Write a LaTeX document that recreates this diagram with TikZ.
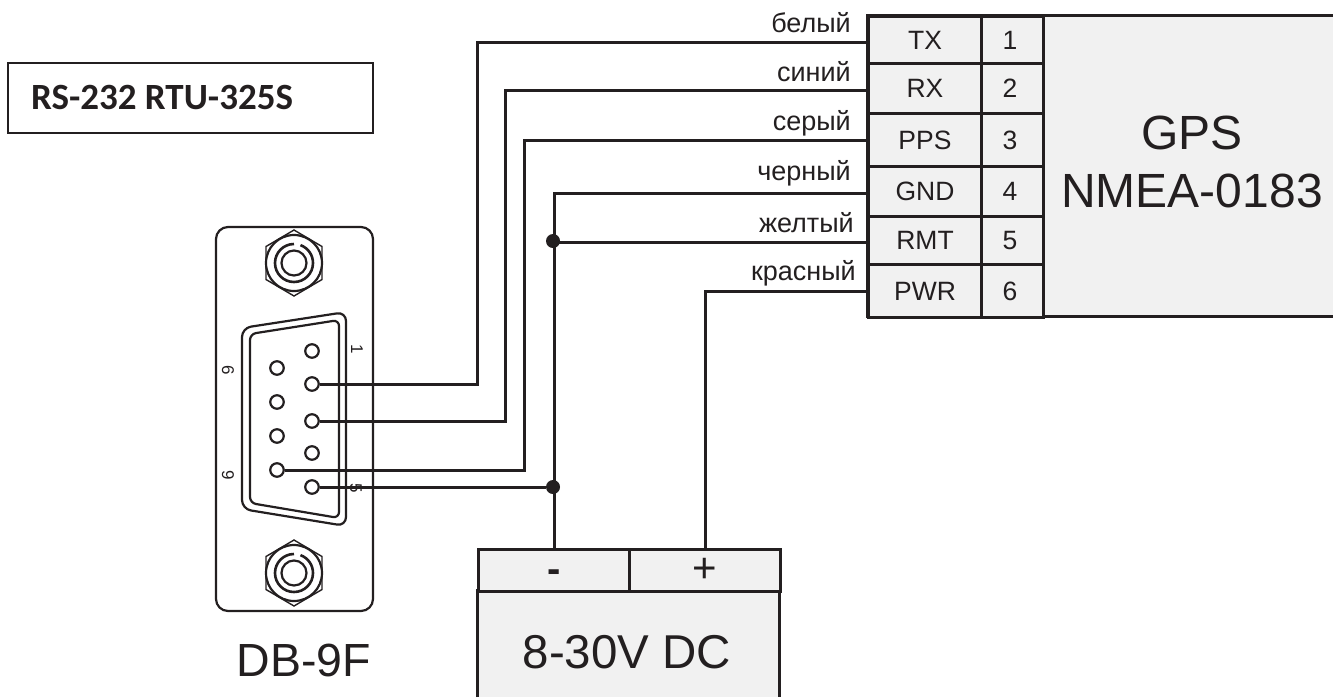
\documentclass[tikz,border=0pt]{standalone}
\usepackage{fontspec}
\setmainfont{Liberation Sans}
\newfontfamily\titlefont{Carlito}
\definecolor{ink}{HTML}{231F20}
\definecolor{cellgray}{HTML}{F1F1F1}
\tikzset{
  cell/.style={draw=ink,fill=cellgray,line width=3pt,inner sep=0pt,font=\fontsize{26.5}{26.5}\selectfont,text=ink},
  pin/.style={circle,draw=ink,fill=white,line width=2.2pt,minimum size=13.5pt,inner sep=0pt},
  dot/.style={circle,fill=ink,minimum size=14pt,inner sep=0pt},
  wire/.style={draw=ink,line width=3pt},
  thin line/.style={draw=ink,line width=2.2pt},
  colorlabel/.style={anchor=base east,inner sep=0pt,text=ink,font=\fontsize{27}{27}\selectfont},
  pinlabel/.style={inner sep=0pt,text=ink,rotate=-90,font=\fontsize{17}{17}\selectfont},
  biglabel/.style={inner sep=0pt,text=ink,font=\fontsize{46.5}{46.5}\selectfont}
}
\begin{document}
\begin{tikzpicture}[x=1pt,y=-1pt]
  \useasboundingbox (0,0) rectangle (1333,697);

  % title
  \node (title) [draw=ink,line width=1.8pt,minimum width=365pt,minimum height=70pt,inner sep=0pt] at (190.5,98) {};
  \node [anchor=west,inner sep=0pt,font=\fontsize{37}{37}\selectfont\bfseries\titlefont,text=ink] at (31,97) {RS-232 RTU-325S};

  % connector
  \draw[thin line,rounded corners=12pt] (216,227) rectangle (373,611);
  \draw[thin line,rounded corners=9pt] (242,328) -- (346,312) -- (346,526) -- (242,509) -- cycle;
  \draw[thin line,rounded corners=6pt] (250,334) -- (339,320) -- (339,518) -- (250,503) -- cycle;
  \foreach \sy in {263,573} {
    \draw[thin line,line width=1.4pt] (294,\sy-33) -- (322,\sy-16.5) -- (322,\sy+16.5) -- (294,\sy+33) -- (266,\sy+16.5) -- (266,\sy-16.5) -- cycle;
    \draw[thin line] (294,\sy) circle (28pt);
    \draw[thin line] (294,\sy) circle (12.5pt);
    \draw[thin line,line width=2.6pt] (294,\sy-19) arc[start angle=90,end angle=430,radius=19pt];
  }
  \foreach \name/\px/\py in {p1/312/351,p2/312/384,p3/312/421,p4/312/453,p5/312/487,p6/277/368,p7/277/402,p8/277/436,p9/277/470}
    \node (\name) [pin] at (\px,\py) {};
  \node (n1) [pinlabel] at (357,349) {1};
  \node (n5) [pinlabel] at (356,488) {5};
  \node (n6) [pinlabel] at (228,370) {6};
  \node (n9) [pinlabel] at (228,475) {9};
  \node (db) [biglabel] at (304,660) {DB-9F};

  % gps
  \draw[wire,fill=cellgray] (1333,15) -- (867,15) -- (867,316) -- (1333,316);
  \foreach \name/\txt/\num/\ya/\yb in {tx/TX/1/15/62,rx/RX/2/62/112,pps/PPS/3/112/165,gnd/GND/4/165/215,rmt/RMT/5/215/263,pwr/PWR/6/263/316} {
    \node (\name) [cell,minimum width=113pt,minimum height={\yb-\ya},anchor=north west] at (867,\ya) {\txt};
    \node (\name n) [cell,minimum width=62pt,minimum height={\yb-\ya},anchor=north west] at (980,\ya) {\num\kern5pt};
  }
  \node (gps) [biglabel,align=center,font=\fontsize{48}{48}\selectfont] at (1192,162) {GPS\\[9.5pt]NMEA-0183};

  % power
  \draw[wire,fill=cellgray] (477,697) -- (477,590) -- (779,590) -- (779,697);
  \node (minus) [cell,minimum width=151pt,minimum height=42pt,anchor=north west,font=\fontsize{40}{40}\bfseries\selectfont] at (477,548) {\raisebox{-12pt}[0pt][0pt]{-}};
  \node (plus) [cell,minimum width=151pt,minimum height=42pt,anchor=north west,font=\fontsize{42}{42}\selectfont] at (628,548) {+};
  \node (supply) [biglabel,font=\fontsize{47.5}{47.5}\selectfont] at (627,652) {8-30V DC};

  % junctions
  \node (j1) [dot] at (553,241) {};
  \node (j2) [dot] at (553,487) {};

  % wires
  \coordinate (b1) at (477,0);
  \coordinate (b2) at (505,0);
  \coordinate (b3) at (524,0);
  \foreach \from/\via/\to in {tx.182.5/b1/p2,rx.182/b2/p3,pps.180/b3/p9}
    \draw[wire] (\from) -- (\from -| \via) |- (\to.east);
  \draw[wire] (gnd.182) -| (minus.north);
  \draw[wire] (pwr.180) -| (plus.north);
  \draw[wire] (rmt.182) -- (rmt.182 -| j1);
  \draw[wire] (p5.east) -- (j2);

  % colours
  \foreach \txt/\tx/\ty in {белый/851/32,синий/851/81,серый/851/130,черный/851/180,желтый/854/232,красный/856/280}
    \node [colorlabel] at (\tx,\ty) {\txt};
\end{tikzpicture}
\end{document}
